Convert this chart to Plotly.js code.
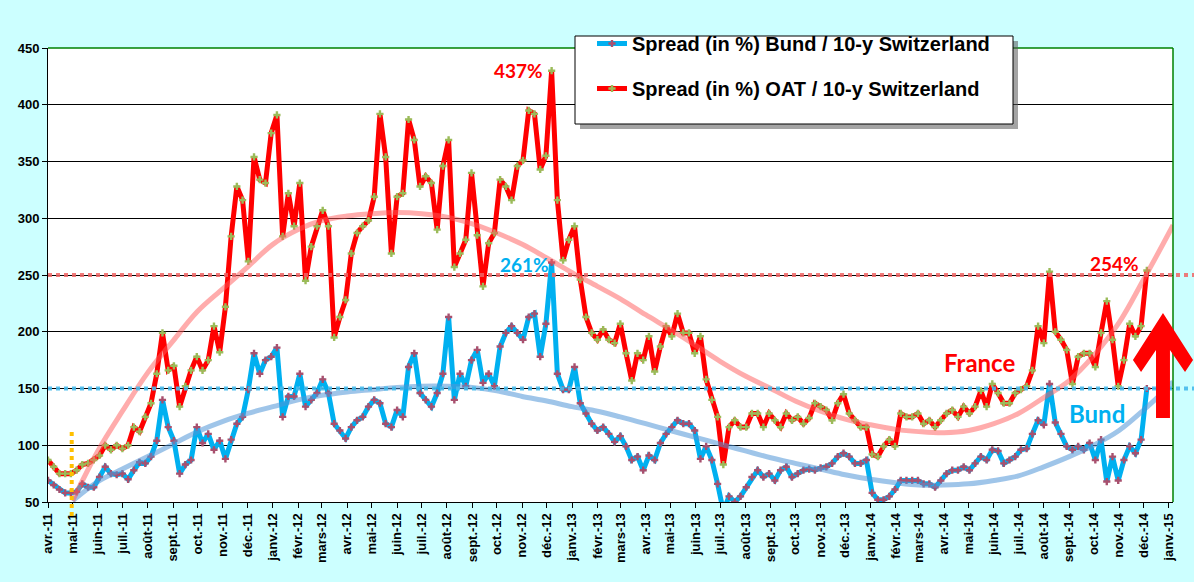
<!DOCTYPE html>
<html>
<head>
<meta charset="utf-8">
<script src="https://cdn.plot.ly/plotly-3.0.1.min.js"></script>
<style>
  html, body { margin: 0; padding: 0; background: #ccffff; }
  #chart { width: 1194px; height: 582px; }
</style>
</head>
<body>
<div id="chart"></div>
<script>
/* ---------------- weekly spreads (bp), one reading per week from 1 Apr 2011 ---------------- */
var firstWeek = '2011-04-01';

var bundSpread = [
  69, 65, 61, 58, 58, 59, 66, 63, 63, 72, 81, 75, 74, 75, 70, 78, 85, 84, 90, 104,
  140, 116, 104, 75, 83, 87, 116, 102, 110, 96, 104, 88, 105, 119, 125, 149, 181, 163, 175, 178,
  186, 125, 143, 143, 163, 134, 140, 146, 158, 146, 119, 113, 106, 116, 122, 125, 134, 140, 137, 119,
  116, 131, 125, 169, 181, 146, 140, 134, 146, 163, 213, 140, 163, 152, 175, 184, 155, 163, 152, 187,
  199, 205, 199, 193, 213, 216, 178, 207, 261, 163, 149, 149, 169, 137, 128, 119, 113, 116, 110, 103,
  108, 99, 87, 90, 78, 91, 87, 102, 110, 116, 122, 119, 119, 113, 88, 99, 87, 66, 42, 55,
  50, 55, 63, 72, 78, 72, 75, 69, 78, 81, 72, 75, 78, 79, 78, 80, 81, 84, 90, 93,
  90, 84, 84, 87, 58, 52, 52, 55, 61, 69, 69, 69, 69, 66, 66, 63, 69, 75, 78, 78,
  81, 78, 84, 90, 87, 96, 95, 84, 87, 90, 96, 97, 110, 122, 118, 154, 120, 110, 99, 96,
  99, 96, 102, 87, 105, 68, 90, 69, 87, 99, 93, 105, 150
];

var oatSpread = [
  87, 81, 75, 75, 75, 78, 83, 84, 87, 91, 100, 96, 100, 97, 100, 116, 112, 125, 137, 163,
  199, 166, 170, 134, 152, 166, 178, 166, 175, 205, 182, 222, 284, 328, 316, 262, 354, 334, 331, 375,
  391, 284, 322, 293, 331, 245, 275, 293, 307, 293, 195, 213, 228, 269, 287, 293, 298, 319, 392, 354,
  269, 319, 322, 387, 369, 328, 337, 331, 290, 346, 369, 257, 269, 281, 340, 285, 240, 278, 287, 334,
  328, 316, 346, 351, 395, 392, 343, 355, 430, 316, 263, 281, 293, 246, 213, 199, 193, 202, 193, 190,
  207, 181, 157, 181, 175, 196, 165, 187, 205, 196, 216, 199, 199, 181, 196, 158, 140, 125, 83, 116,
  122, 116, 116, 128, 128, 116, 128, 122, 116, 128, 122, 125, 119, 124, 137, 134, 131, 122, 137, 145,
  128, 122, 116, 116, 92, 90, 99, 105, 99, 128, 125, 125, 128, 119, 122, 116, 122, 128, 131, 125,
  134, 128, 134, 148, 134, 154, 146, 137, 137, 146, 149, 152, 166, 205, 190, 253, 200, 193, 184, 154,
  178, 181, 181, 169, 199, 227, 193, 152, 175, 207, 196, 205, 254
];

/* ---------------- trend curves ---------------- */
var trendDates = [
  '2011-05-01', '2011-06-01', '2011-07-01', '2011-08-01', '2011-09-01', '2011-10-01', '2011-11-01', '2011-12-01',
  '2012-01-01', '2012-02-01', '2012-03-01', '2012-04-01', '2012-05-01', '2012-06-01', '2012-07-01', '2012-08-01',
  '2012-09-01', '2012-10-01', '2012-11-01', '2012-12-01', '2013-01-01', '2013-02-01', '2013-03-01', '2013-04-01',
  '2013-05-01', '2013-06-01', '2013-07-01', '2013-08-01', '2013-09-01', '2013-10-01', '2013-11-01', '2013-12-01',
  '2014-01-01', '2014-02-01', '2014-03-01', '2014-04-01', '2014-05-01', '2014-06-01', '2014-07-01', '2014-08-01',
  '2014-09-01', '2014-10-01', '2014-11-01', '2014-12-01', '2015-01-01', '2015-01-06'
];
var oatTrend = [
  51, 95, 130, 164, 192, 218, 238, 257, 277, 290, 298, 302, 304, 305, 304, 301,
  295, 287, 277, 265, 252, 240, 229, 215, 202, 188, 174, 161, 150, 139, 130, 123,
  118, 114, 112, 111, 113, 119, 128, 142, 157, 179, 208, 246, 287, 294
];
var bundTrend = [
  51, 68, 79, 90, 101, 112, 121, 128, 134, 140, 144, 147, 149, 151, 152, 152,
  151, 148, 143, 139, 134, 130, 125, 119, 113, 107, 101, 95, 89, 84, 79, 74,
  70, 67, 65, 65, 66, 69, 73, 81, 90, 100, 113, 131, 152, 156
];

/* ---------------- x axis labels ---------------- */
var tickLabels = [
  'avr.-11', 'mai-11', 'juin-11', 'juil.-11', 'août-11', 'sept.-11', 'oct.-11', 'nov.-11', 'déc.-11',
  'janv.-12', 'févr.-12', 'mars-12', 'avr.-12', 'mai-12', 'juin-12', 'juil.-12', 'août-12', 'sept.-12', 'oct.-12', 'nov.-12', 'déc.-12',
  'janv.-13', 'févr.-13', 'mars-13', 'avr.-13', 'mai-13', 'juin-13', 'juil.-13', 'août-13', 'sept.-13', 'oct.-13', 'nov.-13', 'déc.-13',
  'janv.-14', 'févr.-14', 'mars-14', 'avr.-14', 'mai-14', 'juin-14', 'juil.-14', 'août-14', 'sept.-14', 'oct.-14', 'nov.-14', 'déc.-14',
  'janv.-15'
];

/* ---------------- helpers ---------------- */
function addDays(s, n) {
  var d = new Date(s + 'T00:00:00Z');
  d.setUTCDate(d.getUTCDate() + n);
  return d.toISOString().slice(0, 10);
}

var weekDates = [];
for (var i = 0; i < oatSpread.length; i++) weekDates.push(addDays(firstWeek, 7 * i));

var tickDates = [];
for (var m = 0; m < tickLabels.length; m++) {
  var y = 2011 + Math.floor((3 + m) / 12);
  var mo = (3 + m) % 12 + 1;
  tickDates.push(y + '-' + (mo < 10 ? '0' : '') + mo + '-01');
}

// plot box in page pixels: x 48..1173, y 48..502
var W = 1194, H = 582, ML = 48, MR = 21, MT = 48, MB = 80;
var PW = W - ML - MR, PH = H - MT - MB;
function px(x) { return (x - ML) / PW; }
function py(y) { return (H - MB - y) / PH; }
function pathFrom(pts) {
  return pts.map(function (p, k) { return (k ? 'L' : 'M') + px(p[0]).toFixed(4) + ',' + py(p[1]).toFixed(4); }).join(' ') + ' Z';
}

var tickFont = {family: 'Liberation Sans, Arial, sans-serif', size: 13, weight: 'bold', color: '#000'};
var noteFont = 'Lato, Open Sans, sans-serif';

/* ---------------- traces ---------------- */
var bund = {
  x: weekDates, y: bundSpread, type: 'scatter', mode: 'lines+markers',
  name: 'Spread (in %) Bund / 10-y Switzerland', legendgroup: 'bund',
  line: {color: '#00b0f0', width: 5},
  marker: {symbol: 'cross', size: 6, color: '#a8506e'}
};
var oat = {
  x: weekDates, y: oatSpread, type: 'scatter', mode: 'lines+markers',
  name: 'Spread (in %) OAT / 10-y Switzerland', legendgroup: 'oat',
  line: {color: '#ff0000', width: 5},
  marker: {symbol: 'cross', size: 6, color: '#9bbb59'}
};
var bundFit = {
  x: trendDates, y: bundTrend, type: 'scatter', mode: 'lines', showlegend: false,
  line: {color: 'rgba(80,150,215,0.55)', width: 5, shape: 'spline'}
};
var oatFit = {
  x: trendDates, y: oatTrend, type: 'scatter', mode: 'lines', showlegend: false,
  line: {color: 'rgba(255,90,90,0.5)', width: 5, shape: 'spline'}
};

/* ---------------- decorations ---------------- */
var arrowPts = [[1163, 313], [1193, 360], [1185, 372], [1170, 350], [1170, 418],
                [1156, 418], [1156, 350], [1141, 372], [1133, 360]];

var shapes = [
  {type: 'line', xref: 'paper', yref: 'y', x0: 0, x1: px(W), y0: 250, y1: 250,
   line: {color: 'rgba(240,100,100,0.85)', width: 4, dash: '4px,4px'}},
  {type: 'line', xref: 'paper', yref: 'y', x0: 0, x1: px(W), y0: 150, y1: 150,
   line: {color: 'rgba(70,185,235,0.9)', width: 4, dash: '4px,4px'}},
  {type: 'line', xref: 'x', yref: 'paper', x0: '2011-04-30', x1: '2011-04-30', y0: py(516), y1: py(432),
   line: {color: '#ffc000', width: 4, dash: '4px,4px'}},
  {type: 'line', xref: 'paper', yref: 'paper', x0: 0, x1: 1, y0: 1, y1: 1, line: {color: '#008000', width: 1.5}},
  {type: 'line', xref: 'paper', yref: 'paper', x0: 1, x1: 1, y0: 0, y1: 1, line: {color: '#008000', width: 1.5}},
  // legend frame with its drop shadow
  {type: 'rect', xref: 'paper', yref: 'paper', x0: px(580), x1: px(1018), y0: py(129), y1: py(41),
   fillcolor: 'rgba(90,90,90,0.55)', line: {width: 0}},
  {type: 'rect', xref: 'paper', yref: 'paper', x0: px(575), x1: px(1013), y0: py(124), y1: py(36),
   fillcolor: '#ffffff', line: {color: '#000', width: 1}},
  {type: 'path', xref: 'paper', yref: 'paper', path: pathFrom(arrowPts),
   fillcolor: '#ff0000', line: {width: 0}}
];

function note(text, x, y, size, color) {
  return {text: text, xref: 'paper', yref: 'paper', x: px(x), y: py(y),
          xanchor: 'center', yanchor: 'middle', showarrow: false,
          font: {family: noteFont, size: size, weight: 'bold', color: color}};
}
var annotations = [
  note('437%', 518, 70, 19, '#ff0000'),
  note('261%', 524, 264, 19, '#00b0f0'),
  note('254%', 1114, 263, 19, '#ff0000'),
  note('France', 979, 362, 24, '#ff0000'),
  note('Bund', 1097, 413, 24, '#00b0f0')
];

var layout = {
  width: W, height: H,
  margin: {l: ML, r: MR, t: MT, b: MB, pad: 0},
  paper_bgcolor: '#ccffff',
  plot_bgcolor: '#ffffff',
  showlegend: true,
  legend: {
    x: px(592), y: py(24), xanchor: 'left', yanchor: 'top',
    bgcolor: 'rgba(0,0,0,0)', borderwidth: 0,
    traceorder: 'grouped', tracegroupgap: 16, itemwidth: 30,
    font: {family: 'Liberation Sans, Arial, sans-serif', size: 20, weight: 'bold', color: '#000'}
  },
  xaxis: {
    type: 'date', range: ['2011-04-01', '2015-01-06'],
    tickmode: 'array', tickvals: tickDates, ticktext: tickLabels, tickangle: -90,
    ticks: 'outside', ticklen: 5, tickcolor: '#000', tickfont: tickFont,
    showline: true, linecolor: '#000', linewidth: 1, showgrid: false, zeroline: false
  },
  yaxis: {
    range: [50, 450], tick0: 50, dtick: 50,
    ticks: 'outside', ticklen: 5, tickcolor: '#000', tickfont: tickFont,
    showline: true, linecolor: '#000', linewidth: 1,
    showgrid: true, gridcolor: '#000', gridwidth: 1, zeroline: false
  },
  shapes: shapes,
  annotations: annotations
};

Plotly.newPlot('chart', [bund, oat, bundFit, oatFit], layout, {displayModeBar: false, staticPlot: true});
</script>
</body>
</html>
